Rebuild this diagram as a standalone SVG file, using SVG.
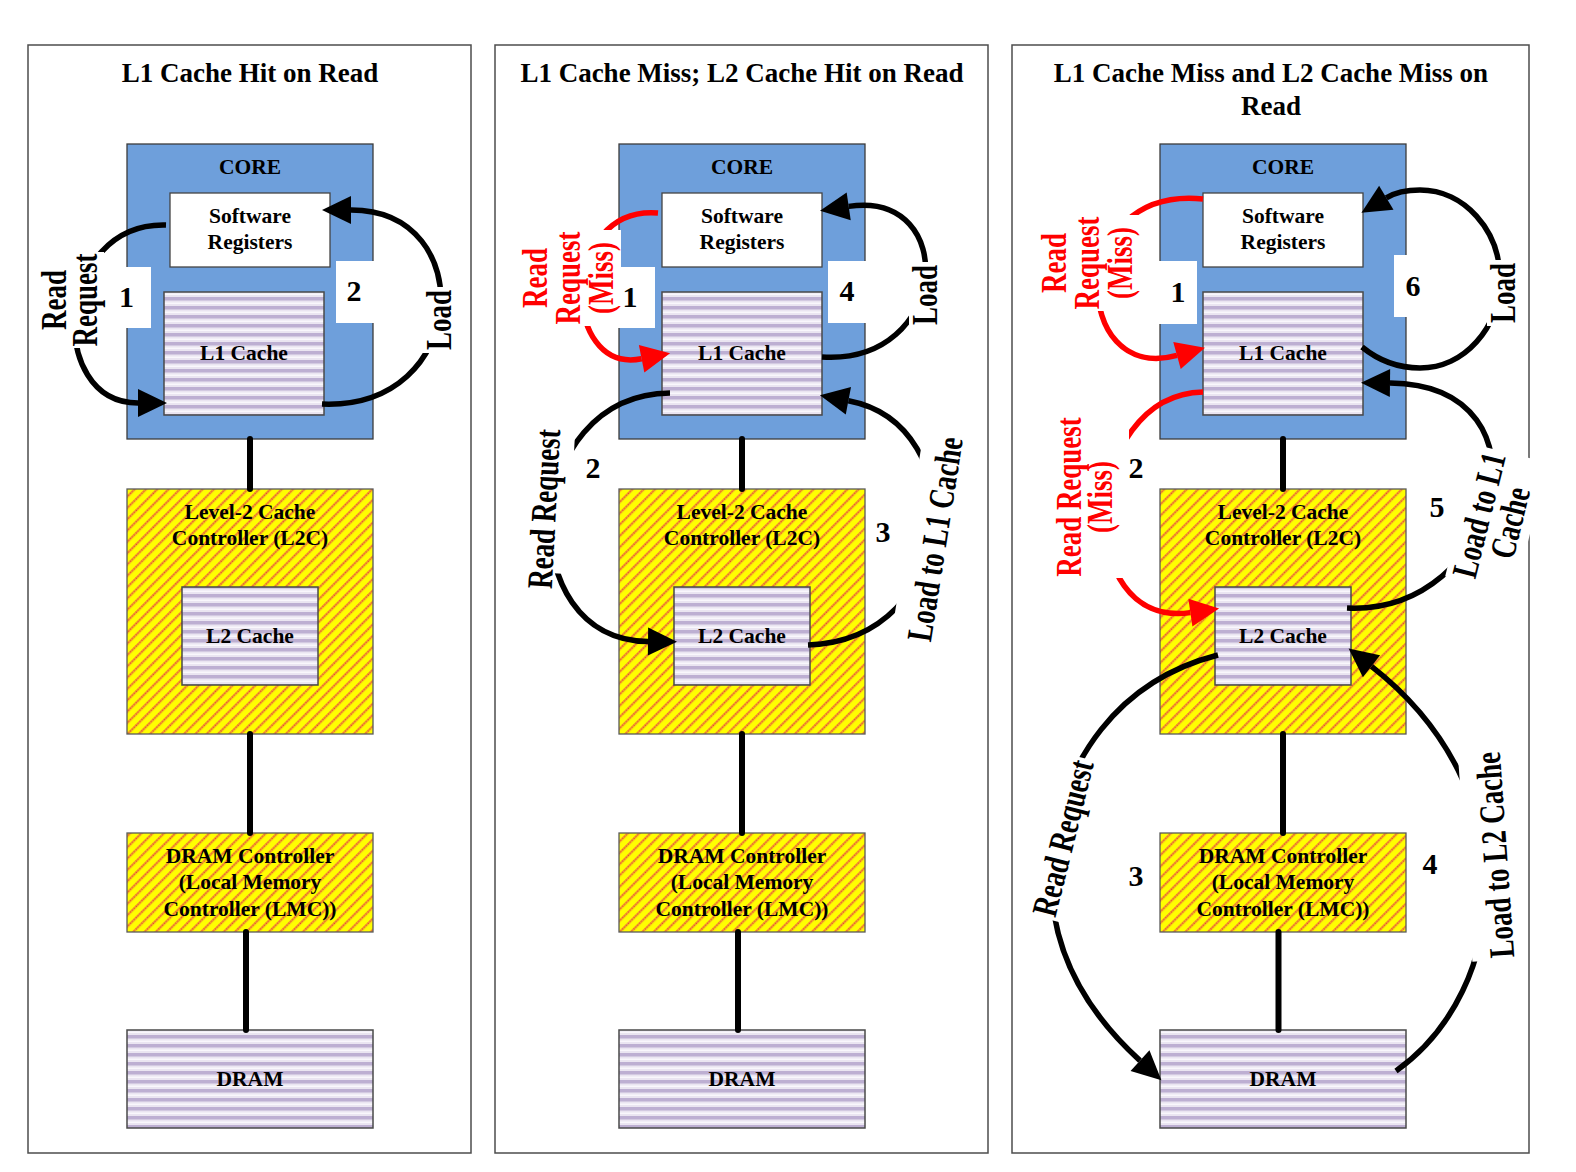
<svg xmlns="http://www.w3.org/2000/svg" width="1576" height="1172" viewBox="0 0 1576 1172">
<defs>
<style>
.frame{fill:#fff;stroke:#4d4d4d;stroke-width:1.5}
.title{font-family:"Liberation Serif",serif;font-weight:bold;font-size:27px;text-anchor:middle;fill:#000}
.core{fill:#6E9FDB;stroke:#3c3c3c;stroke-width:1.3}
.wbox{fill:#fff;stroke:#444;stroke-width:1.3}
.stripe{fill:url(#stripe);stroke:#4a4a4a;stroke-width:1.5}
.hatch{fill:url(#hatch);stroke:#5a5a5a;stroke-width:1.3}
.lbl{font-family:"Liberation Serif",serif;font-weight:bold;font-size:21.5px;text-anchor:middle;fill:#000}
.num{font-family:"Liberation Serif",serif;font-weight:bold;font-size:30px;text-anchor:middle;fill:#000}
.alab{font-family:"Liberation Serif",serif;font-weight:bold;font-size:36px;text-anchor:middle;fill:#000}
.red{fill:#FF0000}
.nb{fill:#fff}
.bg{fill:#fff}
.wire{stroke:#000;stroke-width:6;stroke-linecap:round;fill:none}
.arc{fill:none;stroke:#000;stroke-width:5.5;marker-end:url(#ahB)}
.arcr{fill:none;stroke:#FF0000;stroke-width:5.5;marker-end:url(#ahR)}
</style>
<pattern id="stripe" patternUnits="userSpaceOnUse" width="10" height="9">
<rect width="10" height="9" fill="#EAE5F1"/>
<rect y="0" width="10" height="3.5" fill="#BDAFD2"/>
<rect y="5.5" width="10" height="1.5" fill="#F9F7FC"/>
</pattern>
<pattern id="hatch" patternUnits="userSpaceOnUse" width="8" height="8" patternTransform="rotate(45)">
<rect width="8" height="8" fill="#FFFF00"/>
<rect x="0" width="2.4" height="8" fill="#F3A02C"/>
<line x1="1.2" y1="0" x2="1.2" y2="8" stroke="#E3342A" stroke-width="1.2" stroke-dasharray="1 1.7"/>
</pattern>
<marker id="ahB" markerUnits="userSpaceOnUse" markerWidth="32" markerHeight="30" refX="0" refY="14" orient="auto" overflow="visible">
<path d="M0,0 L29,14 L0,28 z" fill="#000"/>
</marker>
<marker id="ahR" markerUnits="userSpaceOnUse" markerWidth="32" markerHeight="30" refX="0" refY="14" orient="auto" overflow="visible">
<path d="M0,0 L29,14 L0,28 z" fill="#FF0000"/>
</marker>
</defs>
<rect width="1576" height="1172" fill="#fff"/>

<g id="panels">
<rect class="frame" x="28" y="45" width="443" height="1108"/>
<text class="title" x="250" y="82">L1 Cache Hit on Read</text>
<rect class="frame" x="495" y="45" width="493" height="1108"/>
<text class="title" x="742" y="82">L1 Cache Miss; L2 Cache Hit on Read</text>
<rect class="frame" x="1012" y="45" width="517" height="1108"/>
<text class="title" x="1271" y="82">L1 Cache Miss and L2 Cache Miss on</text>
<text class="title" x="1271" y="115">Read</text>
</g>

<!-- Panel 1 nodes -->
<g id="p1-core"><rect class="core" x="127" y="144" width="246" height="295"/><text class="lbl" x="250" y="174">CORE</text></g>
<g id="p1-regs"><rect class="wbox" x="170" y="193" width="160" height="74"/><text class="lbl" x="250" y="223">Software</text><text class="lbl" x="250" y="249">Registers</text></g>
<g id="p1-l1"><rect class="stripe" x="164" y="292" width="160" height="123"/><text class="lbl" x="244" y="360">L1 Cache</text></g>
<g id="p1-l2c"><rect class="hatch" x="127" y="489" width="246" height="245"/><text class="lbl" x="250" y="519">Level-2 Cache</text><text class="lbl" x="250" y="545">Controller (L2C)</text></g>
<g id="p1-l2"><rect class="stripe" x="182" y="587" width="136" height="98"/><text class="lbl" x="250" y="643">L2 Cache</text></g>
<g id="p1-lmc"><rect class="hatch" x="127" y="833" width="246" height="99"/><text class="lbl" x="250" y="863">DRAM Controller</text><text class="lbl" x="250" y="889">(Local Memory</text><text class="lbl" x="250" y="916">Controller (LMC))</text></g>
<g id="p1-dram"><rect class="stripe" x="127" y="1030" width="246" height="98"/><text class="lbl" x="250" y="1086">DRAM</text></g>

<!-- Panel 2 nodes -->
<g id="p2-core"><rect class="core" x="619" y="144" width="246" height="295"/><text class="lbl" x="742" y="174">CORE</text></g>
<g id="p2-regs"><rect class="wbox" x="662" y="193" width="160" height="74"/><text class="lbl" x="742" y="223">Software</text><text class="lbl" x="742" y="249">Registers</text></g>
<g id="p2-l1"><rect class="stripe" x="662" y="292" width="160" height="123"/><text class="lbl" x="742" y="360">L1 Cache</text></g>
<g id="p2-l2c"><rect class="hatch" x="619" y="489" width="246" height="245"/><text class="lbl" x="742" y="519">Level-2 Cache</text><text class="lbl" x="742" y="545">Controller (L2C)</text></g>
<g id="p2-l2"><rect class="stripe" x="674" y="587" width="136" height="98"/><text class="lbl" x="742" y="643">L2 Cache</text></g>
<g id="p2-lmc"><rect class="hatch" x="619" y="833" width="246" height="99"/><text class="lbl" x="742" y="863">DRAM Controller</text><text class="lbl" x="742" y="889">(Local Memory</text><text class="lbl" x="742" y="916">Controller (LMC))</text></g>
<g id="p2-dram"><rect class="stripe" x="619" y="1030" width="246" height="98"/><text class="lbl" x="742" y="1086">DRAM</text></g>

<!-- Panel 3 nodes -->
<g id="p3-core"><rect class="core" x="1160" y="144" width="246" height="295"/><text class="lbl" x="1283" y="174">CORE</text></g>
<g id="p3-regs"><rect class="wbox" x="1203" y="193" width="160" height="74"/><text class="lbl" x="1283" y="223">Software</text><text class="lbl" x="1283" y="249">Registers</text></g>
<g id="p3-l1"><rect class="stripe" x="1203" y="292" width="160" height="123"/><text class="lbl" x="1283" y="360">L1 Cache</text></g>
<g id="p3-l2c"><rect class="hatch" x="1160" y="489" width="246" height="245"/><text class="lbl" x="1283" y="519">Level-2 Cache</text><text class="lbl" x="1283" y="545">Controller (L2C)</text></g>
<g id="p3-l2"><rect class="stripe" x="1215" y="587" width="136" height="98"/><text class="lbl" x="1283" y="643">L2 Cache</text></g>
<g id="p3-lmc"><rect class="hatch" x="1160" y="833" width="246" height="99"/><text class="lbl" x="1283" y="863">DRAM Controller</text><text class="lbl" x="1283" y="889">(Local Memory</text><text class="lbl" x="1283" y="916">Controller (LMC))</text></g>
<g id="p3-dram"><rect class="stripe" x="1160" y="1030" width="246" height="98"/><text class="lbl" x="1283" y="1086">DRAM</text></g>

<!-- step numbers -->
<g id="step-numbers">
<rect class="nb" x="108" y="267" width="43" height="61"/><text class="num" x="126.5" y="307">1</text>
<rect class="nb" x="336" y="261" width="40" height="62"/><text class="num" x="354" y="301">2</text>
<rect class="nb" x="615" y="267" width="40" height="61"/><text class="num" x="630" y="307">1</text>
<rect class="nb" x="828" y="261" width="40" height="62"/><text class="num" x="847" y="301">4</text>
<text class="num" x="593" y="478">2</text>
<text class="num" x="883" y="542">3</text>
<rect class="nb" x="1156" y="261" width="41" height="63"/><text class="num" x="1178" y="302">1</text>
<rect class="nb" x="1394" y="255" width="40" height="62"/><text class="num" x="1413" y="296">6</text>
<text class="num" x="1136" y="478">2</text>
<text class="num" x="1437" y="517">5</text>
<text class="num" x="1136" y="886">3</text>
<text class="num" x="1430" y="874">4</text>
</g>

<g id="connectors">
<line class="wire" x1="250" y1="439" x2="250" y2="489"/>
<line class="wire" x1="250" y1="734" x2="250" y2="833"/>
<line class="wire" x1="246" y1="932" x2="246" y2="1030"/>
<line class="wire" x1="742" y1="439" x2="742" y2="489"/>
<line class="wire" x1="742" y1="734" x2="742" y2="833"/>
<line class="wire" x1="738" y1="932" x2="738" y2="1030"/>
<line class="wire" x1="1283" y1="439" x2="1283" y2="489"/>
<line class="wire" x1="1283" y1="734" x2="1283" y2="833"/>
<line class="wire" x1="1278.5" y1="932" x2="1278.5" y2="1030"/>

<path class="arc" d="M166,225 C55,222 45,403 138,403"/>
<path class="arc" d="M322,404 C470,410 480,210 351,210"/>

<path class="arcr" d="M658,213 C560,205 560,375 641.6,358.8"/>
<path class="arc" d="M822,357 C950,365 960,190 848.7,206.4"/>
<path class="arc" d="M670,393 C520,395 510,640 648,641.5"/>
<path class="arc" d="M808,645 C960,640 975,425 848.4,400.8"/>

<path class="arcr" d="M1203,199 C1065,185 1070,385 1177,355.4"/>
<path class="arcr" d="M1203,392 C1080,395 1070,630 1190.4,612.6"/>
<path class="arc" d="M1362,347 C1378,360 1398,368 1420,368 C1464,368 1500,328 1500,279 C1500,230 1464,190 1420,190 C1405,190 1396,192 1386.3,197.8"/>
<path class="arc" d="M1347,608 C1500,615 1560,385 1390,383"/>
<path class="arc" d="M1218,655 C1120,680 1060,760 1052,860 C1045,950 1090,1015 1140,1060.6"/>
<path class="arc" d="M1396,1071 C1510,990 1530,790 1371.5,666.3"/>
</g>

<g id="connector-labels">
<g transform="translate(52,300) rotate(-90) scale(0.75,1)"><rect class="bg" x="-64" y="-12" width="128" height="64"/><text class="alab" x="0" y="14">Read</text><text class="alab" x="0" y="45">Request</text></g>
<g transform="translate(438,320) rotate(-90) scale(0.75,1)"><rect class="bg" x="-44" y="-16" width="88" height="34"/><text class="alab" x="0" y="13">Load</text></g>

<g transform="translate(535,278) rotate(-90) scale(0.75,1)"><rect class="bg" x="-64" y="-17" width="128" height="103"/><text class="alab red" x="0" y="12">Read</text><text class="alab red" x="0" y="45">Request</text><text class="alab red" x="0" y="78">(Miss)</text></g>
<g transform="translate(925,295) rotate(-90) scale(0.75,1)"><rect class="bg" x="-44" y="-16" width="88" height="34"/><text class="alab" x="0" y="12">Load</text></g>
<g transform="translate(545,509) rotate(-87) scale(0.75,1)"><rect class="bg" x="-85" y="-16" width="195" height="42"/><text class="alab" x="0" y="11">Read Request</text></g>
<g transform="translate(935,539) rotate(-81) scale(0.75,1)"><rect class="bg" x="-142" y="-28" width="284" height="48"/><text class="alab" x="0" y="12">Load to L1 Cache</text></g>

<g transform="translate(1054,263) rotate(-90) scale(0.75,1)"><rect class="bg" x="-64" y="-18" width="128" height="104"/><text class="alab red" x="0" y="12">Read</text><text class="alab red" x="0" y="45">Request</text><text class="alab red" x="0" y="78">(Miss)</text></g>
<g transform="translate(1069,497) rotate(-90) scale(0.75,1)"><rect class="bg" x="-108" y="-18" width="216" height="78"/><text class="alab red" x="0" y="12">Read Request</text><text class="alab red" x="0" y="43">(Miss)</text></g>
<g transform="translate(1503,293) rotate(-90) scale(0.75,1)"><rect class="bg" x="-44" y="-16" width="88" height="34"/><text class="alab" x="0" y="12">Load</text></g>
<g transform="translate(1479,515) rotate(-76) scale(0.75,1)"><rect class="bg" x="-90" y="-18" width="180" height="72"/><text class="alab" x="0" y="12">Load to L1</text><text class="alab" x="0" y="44">Cache</text></g>
<g transform="translate(1063,838) rotate(-76) scale(0.75,1)"><rect class="bg" x="-110" y="-14" width="220" height="44"/><text class="alab" x="0" y="12">Read Request</text></g>
<g transform="translate(1495,855) rotate(-94) scale(0.75,1)"><rect class="bg" x="-140" y="-30" width="280" height="48"/><text class="alab" x="0" y="12">Load to L2 Cache</text></g>
</g>
</svg>
